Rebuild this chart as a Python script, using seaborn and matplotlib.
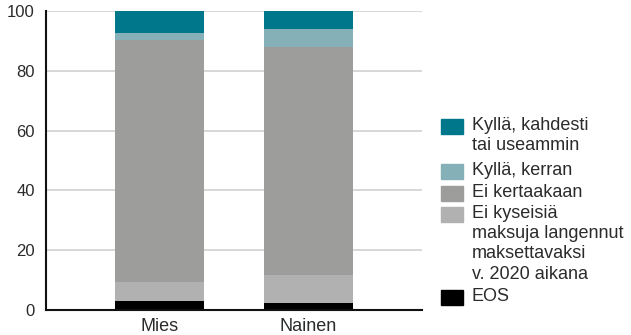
import numpy as np
import pandas as pd
import matplotlib
matplotlib.use('Agg')
import matplotlib.pyplot as plt
import seaborn as sns
from matplotlib.patches import Rectangle

# Data (percent), stacked from bottom to top
groups = ['Mies', 'Nainen']
series = ['EOS',
          'Ei kyseisiä\nmaksuja langennut\nmaksettavaksi\nv. 2020 aikana',
          'Ei kertaakaan',
          'Kyllä, kerran',
          'Kyllä, kahdesti\ntai useammin']
eos = [3.0, 2.3]
ei_kyseisia = [6.3, 9.4]
ei_kertaakaan = [81.0, 76.3]
kerran = [2.3, 6.0]
kahdesti = [7.4, 6.0]
colors = ['#000000', '#b1b1b1', '#9d9d9c', '#86b0b7', '#00778a']

yticks = [0, 20, 40, 60, 80, 100]

sns.set_style('white')
plt.rcParams['font.family'] = ['Liberation Sans', 'DejaVu Sans']
txt = '#2b2b2b'

values = np.array([eos, ei_kyseisia, ei_kertaakaan, kerran, kahdesti])
cum = np.cumsum(values, axis=0)

fig = plt.figure(figsize=(6.31, 3.35), dpi=100)
W, H = 631, 335
ax = fig.add_axes([46 / W, 1 - 310 / H, (422 - 46) / W, (310 - 11) / H])

# draw from top layer down so each lower layer covers the one above
for i in range(len(series) - 1, -1, -1):
    df = pd.DataFrame({'grupp': groups, 'v': cum[i]})
    sns.barplot(data=df, x='grupp', y='v', color=colors[i], width=0.6,
                saturation=1, linewidth=0, edgecolor='none', ax=ax, zorder=3)

ax.set_xlim(-0.762, 1.762)
ax.set_ylim(0, 100)
ax.set_yticks(yticks)
ax.set_xlabel('')
ax.set_ylabel('')
ax.yaxis.grid(True, color='#d4d4d4', linewidth=1.3, zorder=0)
ax.set_axisbelow(True)
for s in ['top', 'right']:
    ax.spines[s].set_visible(False)
for s in ['left', 'bottom']:
    ax.spines[s].set_color('#111111')
    ax.spines[s].set_linewidth(1.5)
    ax.spines[s].set_zorder(5)
ax.tick_params(axis='y', length=0, labelsize=12, colors=txt, pad=8)
ax.tick_params(axis='x', length=0, labelsize=13, colors=txt, pad=6)

# legend, top entry first
box_tops = [119, 164, 186, 207, 290]
for k, top in enumerate(box_tops):
    i = len(series) - 1 - k
    fig.add_artist(Rectangle((441 / W, 1 - (top + 15) / H), 22 / W, 15 / H,
                             transform=fig.transFigure, color=colors[i]))
    fig.text(472 / W, 1 - (top - 2) / H, series[i], fontsize=13, color=txt,
             va='top', ha='left', linespacing=1.25)

fig.savefig('out.png', dpi=100)
